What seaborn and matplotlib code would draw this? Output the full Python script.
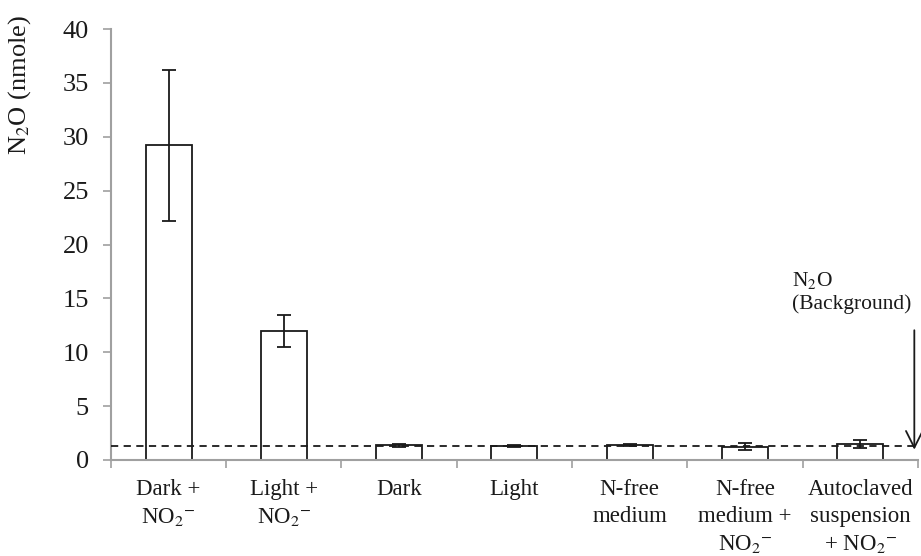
import matplotlib
matplotlib.use("Agg")
import matplotlib.pyplot as plt
import seaborn as sns
import pandas as pd
import numpy as np

categories = ["Dark +\nNO$_2$$^{-}$", "Light +\nNO$_2$$^{-}$", "Dark", "Light",
              "N-free\nmedium", "N-free\nmedium +\nNO$_2$$^{-}$",
              "Autoclaved\nsuspension\n+ NO$_2$$^{-}$"]
values = [29.2, 12.0, 1.35, 1.3, 1.4, 1.25, 1.5]
errors = [7.0, 1.5, 0.15, 0.1, 0.1, 0.3, 0.35]
background = 1.3
yticks = [0, 5, 10, 15, 20, 25, 30, 35, 40]

sns.set_theme(style="white")
plt.rcParams['font.family'] = ['Liberation Serif', 'DejaVu Serif']
plt.rcParams['mathtext.fontset'] = 'stix'

df = pd.DataFrame({"cat": categories, "val": values})

fig = plt.figure(figsize=(9.21, 5.56), dpi=100)
ax = fig.add_axes([0.1205, 0.1727, 0.876, 0.7751])

sns.barplot(data=df, x="cat", y="val", ax=ax, fill=False, color="black",
            width=0.4, linewidth=1.3, errorbar=None)
for p in ax.patches:
    p.set_edgecolor("#1a1a1a")

xpos = np.arange(len(categories))
ax.errorbar(xpos, values, yerr=errors, fmt="none", ecolor="#1a1a1a",
            elinewidth=1.3, capsize=5, capthick=1.3, zorder=5)

ax.axhline(background, color="#1a1a1a", linestyle=(0, (4, 3)), linewidth=1.3, zorder=4)

ax.set_xlim(-0.5, len(categories) - 0.5)
ax.set_ylim(0, 40)
ax.set_yticks(yticks)
ax.set_yticklabels([str(t) for t in yticks], fontsize=19)

ax.set_xticks(xpos)
ax.set_xticklabels(categories, fontsize=16.5, linespacing=1.35)
ax.set_xticks(np.arange(-0.5, len(categories) + 0.5, 1), minor=True)
ax.tick_params(axis="x", which="major", length=0, pad=14, colors="#1a1a1a")
ax.tick_params(axis="x", which="minor", length=6, width=1.2, color="#a0a0a0", direction="out")
ax.tick_params(axis="y", length=6, width=1.2, color="#a0a0a0", direction="out", pad=10,
               labelcolor="#1a1a1a")
ax.tick_params(bottom=True, left=True, which="both")

for s in ["top", "right"]:
    ax.spines[s].set_visible(False)
for s in ["left", "bottom"]:
    ax.spines[s].set_color("#a0a0a0")
    ax.spines[s].set_linewidth(1.5)

ax.set_xlabel("")
ax.set_ylabel("N$_2$O (nmole)", fontsize=19, color="#1a1a1a")
ax.yaxis.set_label_coords(-0.097, 0.87)

ax.annotate("", xy=(6.47, 0.7), xytext=(6.47, 12.3),
            arrowprops=dict(arrowstyle="->", color="#1a1a1a", lw=1.3,
                            mutation_scale=30))
ax.text(5.41, 15.6, "N$_2$O\n(Background)", fontsize=15.5, color="#1a1a1a",
        ha="left", va="center", linespacing=1.2)

fig.savefig("out.png", dpi=100)
